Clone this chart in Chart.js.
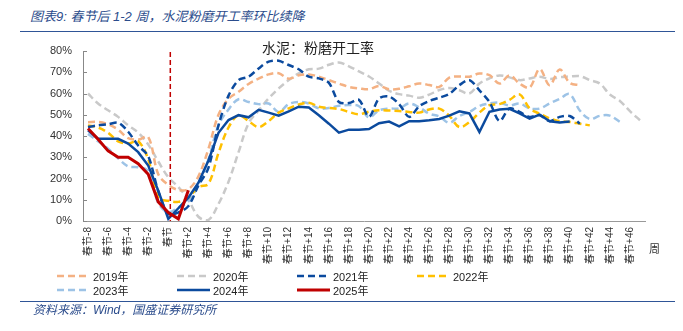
<!DOCTYPE html>
<html>
<head>
<meta charset="utf-8">
<script src="https://cdn.jsdelivr.net/npm/chart.js@4/dist/chart.umd.min.js"></script>
<style>
  html, body { margin: 0; padding: 0; background: #fff; }
  #wrap { position: relative; width: 683px; height: 331px; overflow: hidden; background: #fff; font-family: "Liberation Sans", "Noto Sans CJK SC", sans-serif; }
  #c { position: absolute; left: 0; top: 0; }
  .cap { position: absolute; font-style: italic; color: #2B4C8C; white-space: nowrap; font-family: "Liberation Sans", "Noto Sans CJK SC", sans-serif; }
  .rule { position: absolute; left: 20px; width: 655px; height: 0; border-top: 1.5px solid #2F5597; }
  #ctitle { position: absolute; left: 262px; top: 38px; font-size: 14px; line-height: 18px; color: #222; font-family: "Noto Sans CJK SC", sans-serif; white-space: nowrap; }
  #unit { position: absolute; left: 649px; top: 241px; font-size: 11px; line-height: 14px; color: #333; font-family: "Noto Sans CJK SC", sans-serif; }
  .lg { position: absolute; height: 14px; display: flex; align-items: center; font-size: 11px; color: #222; white-space: nowrap; }
  .lg svg { margin-right: 3px; }
</style>
</head>
<body>
<div id="wrap">
  <div class="cap" style="left:30px; top:9px; font-size:13px; line-height:16px;">图表9:&nbsp;春节后 1-2 周，水泥粉磨开工率环比续降</div>
  <div class="rule" style="top:31px;"></div>
  <canvas id="c" width="683" height="331"></canvas>
  <div id="ctitle">水泥：粉磨开工率</div>
  <div id="unit">周</div>
  <div id="legend"></div>
  <div class="rule" style="top:301px;"></div>
  <div class="cap" style="left:33px; top:303px; font-size:12px; line-height:15px;">资料来源：Wind，国盛证券研究所</div>
</div>
<script>
// Categories: weeks relative to Spring Festival (春节)
const categories = [
  '春节-8','春节-7','春节-6','春节-5','春节-4','春节-3','春节-2','春节-1',
  '春节','春节+1','春节+2','春节+3','春节+4','春节+5','春节+6','春节+7',
  '春节+8','春节+9','春节+10','春节+11','春节+12','春节+13','春节+14','春节+15',
  '春节+16','春节+17','春节+18','春节+19','春节+20','春节+21','春节+22','春节+23',
  '春节+24','春节+25','春节+26','春节+27','春节+28','春节+29','春节+30','春节+31',
  '春节+32','春节+33','春节+34','春节+35','春节+36','春节+37','春节+38','春节+39',
  '春节+40','春节+41','春节+42','春节+43','春节+44','春节+45','春节+46','春节+47'
];
const yTicks = [0, 10, 20, 30, 40, 50, 60, 70, 80];

// Cement grinding operating rate (%)
const y2019 = [46.5,46.6,45.5,43,39,38.3,39.5,22, 17,14.6,15,21,34,50,57.5,60.8,
  64.5,67,69,69.5,67,68.6,69,67.9, 66.3,64.7,63.1,62.4,62,63.5,62,62.2,
  63.4,64.7,64,63.1,67.5,68,67.9,69.4, 68.6,64.7,68.5,64.7,62.8,71.5,63.9,71.3,
  65,63.9,null,null,null,null,null,null];
const y2020 = [60,55.3,52.1,49,45,41.6,36,28, 20.6,16,10,2,0.5,8,18.5,32.4,
  46,52,57.7,62.4,66.3,69.5,71.4,71.7, 73.5,74.6,72.8,70.4,68,64.7,61.3,59.7,
  59,58,59.5,61.6,62.6,61.5,60,64.7, 67.1,68.5,67.6,66.3,67.1,67.9,66.8,67.7,
  68,68.2,66.3,64.7,59.5,56.5,51.7,47.4];
const y2021 = [44.2,45,45.5,46.3,42,35.5,30.5,14, 3.3,4,7,16.7,25,45,59,66.3,
  67.9,71.8,75,75.4,73.4,71.4,67.9,67.1, 65,56,55.5,57,49,57.7,58.6,55,
  49,54,56.5,58,59.8,63.9,66.3,61.5, 56,47,53,51.3,49,49.8,47,49,
  49.4,45.8,null,null,null,null,null,null];
const y2022 = [45,44,41.5,37.5,36.5,37.5,29,11, 9.5,9,11,16,17.5,32,44,49.8,
  47,44.2,47,51,53,54.8,55.7,53.8, 53.2,52.7,51.3,50.2,51.5,52.1,52,51.8,
  51.3,51,52.5,52.9,49.5,44.2,46.5,51, 54.5,55,57,59.6,53,50.5,48.3,47,
  46.6,45.8,45,null,null,null,null,null];
const y2023 = [41,37.5,34,29.5,25.7,25.3,23.5,8.5, 4.1,6.4,9.2,17,29,45,52.5,57.3,
  56,55,55.3,51.3,55,56,55.3,53, 53.2,54.2,54.6,54,48.8,52.1,52.9,53,
  55.3,53.5,50.5,49.2,46.2,49.4,51.3,54.1, 55.3,55.7,54.3,55.3,53,52.9,55.3,57.5,
  59.7,52,48,49.5,49.6,46.6,null,null];
const y2024 = [42.7,38.7,38.7,38.7,36.4,32.4,26.1,14.3, 1,6,11,18,28.5,41.5,47.5,49.8,
  48.8,52.3,51,49.6,51.6,53.8,53.4,49.8, 45.8,41.6,43,43,43.3,46,46.8,44.5,
  47,47,47.4,48,49.6,51.6,50.6,41.9, 51.4,52.5,52.8,50.6,48.2,50.1,46.9,46.3,
  46.8,null,null,null,null,null,null,null];
const y2025 = [43.5,38.5,33,30,30,27,22,9, 4,1,14.5];

const festivalLabel = '春节';

const mk = (label, data, color, dashed, width, order, tension) => ({
  label, data, borderColor: color, backgroundColor: color,
  borderWidth: width, borderDash: dashed ? [7, 4] : [],
  pointRadius: 0, pointHoverRadius: 0, tension: tension, order: order,
  spanGaps: false, fill: false, borderCapStyle: 'butt'
});

const datasets = [
  mk('2019年', y2019, '#F4B183', true, 2.5, 5, 0.35),
  mk('2020年', y2020, '#C9C9C9', true, 2.5, 6, 0.35),
  mk('2021年', y2021, '#0B4A9E', true, 2.5, 2, 0.3),
  mk('2022年', y2022, '#FFC000', true, 2.5, 3, 0.35),
  mk('2023年', y2023, '#9DC3E6', true, 2.5, 4, 0.35),
  mk('2024年', y2024, '#0B4A9E', false, 2.5, 1, 0),
  mk('2025年', y2025, '#C00000', false, 3, 0, 0)
];

const innerTicks = {
  id: 'innerTicks',
  afterDraw(chart) {
    const ys = chart.scales.y, xs = chart.scales.x, ctx = chart.ctx, a = chart.chartArea;
    ctx.save();
    ctx.strokeStyle = '#888';
    ctx.lineWidth = 1;
    yTicks.forEach(v => {
      const py = Math.round(ys.getPixelForValue(v)) + 0.5;
      ctx.beginPath(); ctx.moveTo(a.left, py); ctx.lineTo(a.left + 4, py); ctx.stroke();
    });
    // Spring Festival marker
    const px = xs.getPixelForValue(categories.indexOf(festivalLabel)) + 2;
    ctx.strokeStyle = '#C00000';
    ctx.lineWidth = 1.5;
    ctx.setLineDash([5, 3]);
    ctx.beginPath(); ctx.moveTo(px, a.top + 1); ctx.lineTo(px, a.bottom); ctx.stroke();
    ctx.restore();
  }
};

const chart = new Chart(document.getElementById('c'), {
  type: 'line',
  data: { labels: categories, datasets },
  options: {
    responsive: false, animation: false, devicePixelRatio: 1,
    layout: { padding: { left: 0, top: 51, right: 38, bottom: 60 } },
    plugins: { legend: { display: false }, title: { display: false }, tooltip: { enabled: false } },
    scales: {
      x: {
        type: 'category', offset: true,
        afterFit(s) { s.height = 50; },
        grid: { display: false, drawTicks: false },
        border: { display: true, color: '#999', width: 1 },
        ticks: {
          autoSkip: false, minRotation: 90, maxRotation: 90, padding: 6,
          color: '#333',
          font: { family: '"Liberation Sans", "Noto Sans CJK SC", sans-serif', size: 10 },
          callback(v, i) { return i % 2 === 0 ? categories[i] : ''; }
        }
      },
      y: {
        min: 0, max: 80,
        afterFit(s) { s.width = 83; },
        afterBuildTicks(s) { s.ticks = yTicks.map(v => ({ value: v })); },
        grid: { display: false, drawTicks: false },
        border: { display: true, color: '#888', width: 1 },
        ticks: {
          padding: 11, color: '#333',
          font: { family: '"Liberation Sans", Arial, sans-serif', size: 11 },
          callback(v) { return v + '%'; }
        }
      }
    }
  },
  plugins: [innerTicks]
});

// HTML legend built from the chart's datasets
const lg = document.getElementById('legend');
chart.data.datasets.forEach((ds, i) => {
  const col = i % 4, row = Math.floor(i / 4);
  const d = document.createElement('div');
  d.className = 'lg';
  d.style.left = (57 + col * 120) + 'px';
  d.style.top = (269 + row * 14) + 'px';
  const dash = ds.borderDash.length ? ds.borderDash.join(' ') : 'none';
  d.innerHTML = '<svg width="33" height="6"><line x1="0" y1="3" x2="33" y2="3" stroke="' + ds.borderColor +
    '" stroke-width="' + ds.borderWidth + '" stroke-dasharray="' + dash + '"/></svg><span>' + ds.label + '</span>';
  lg.appendChild(d);
});
</script>
</body>
</html>
